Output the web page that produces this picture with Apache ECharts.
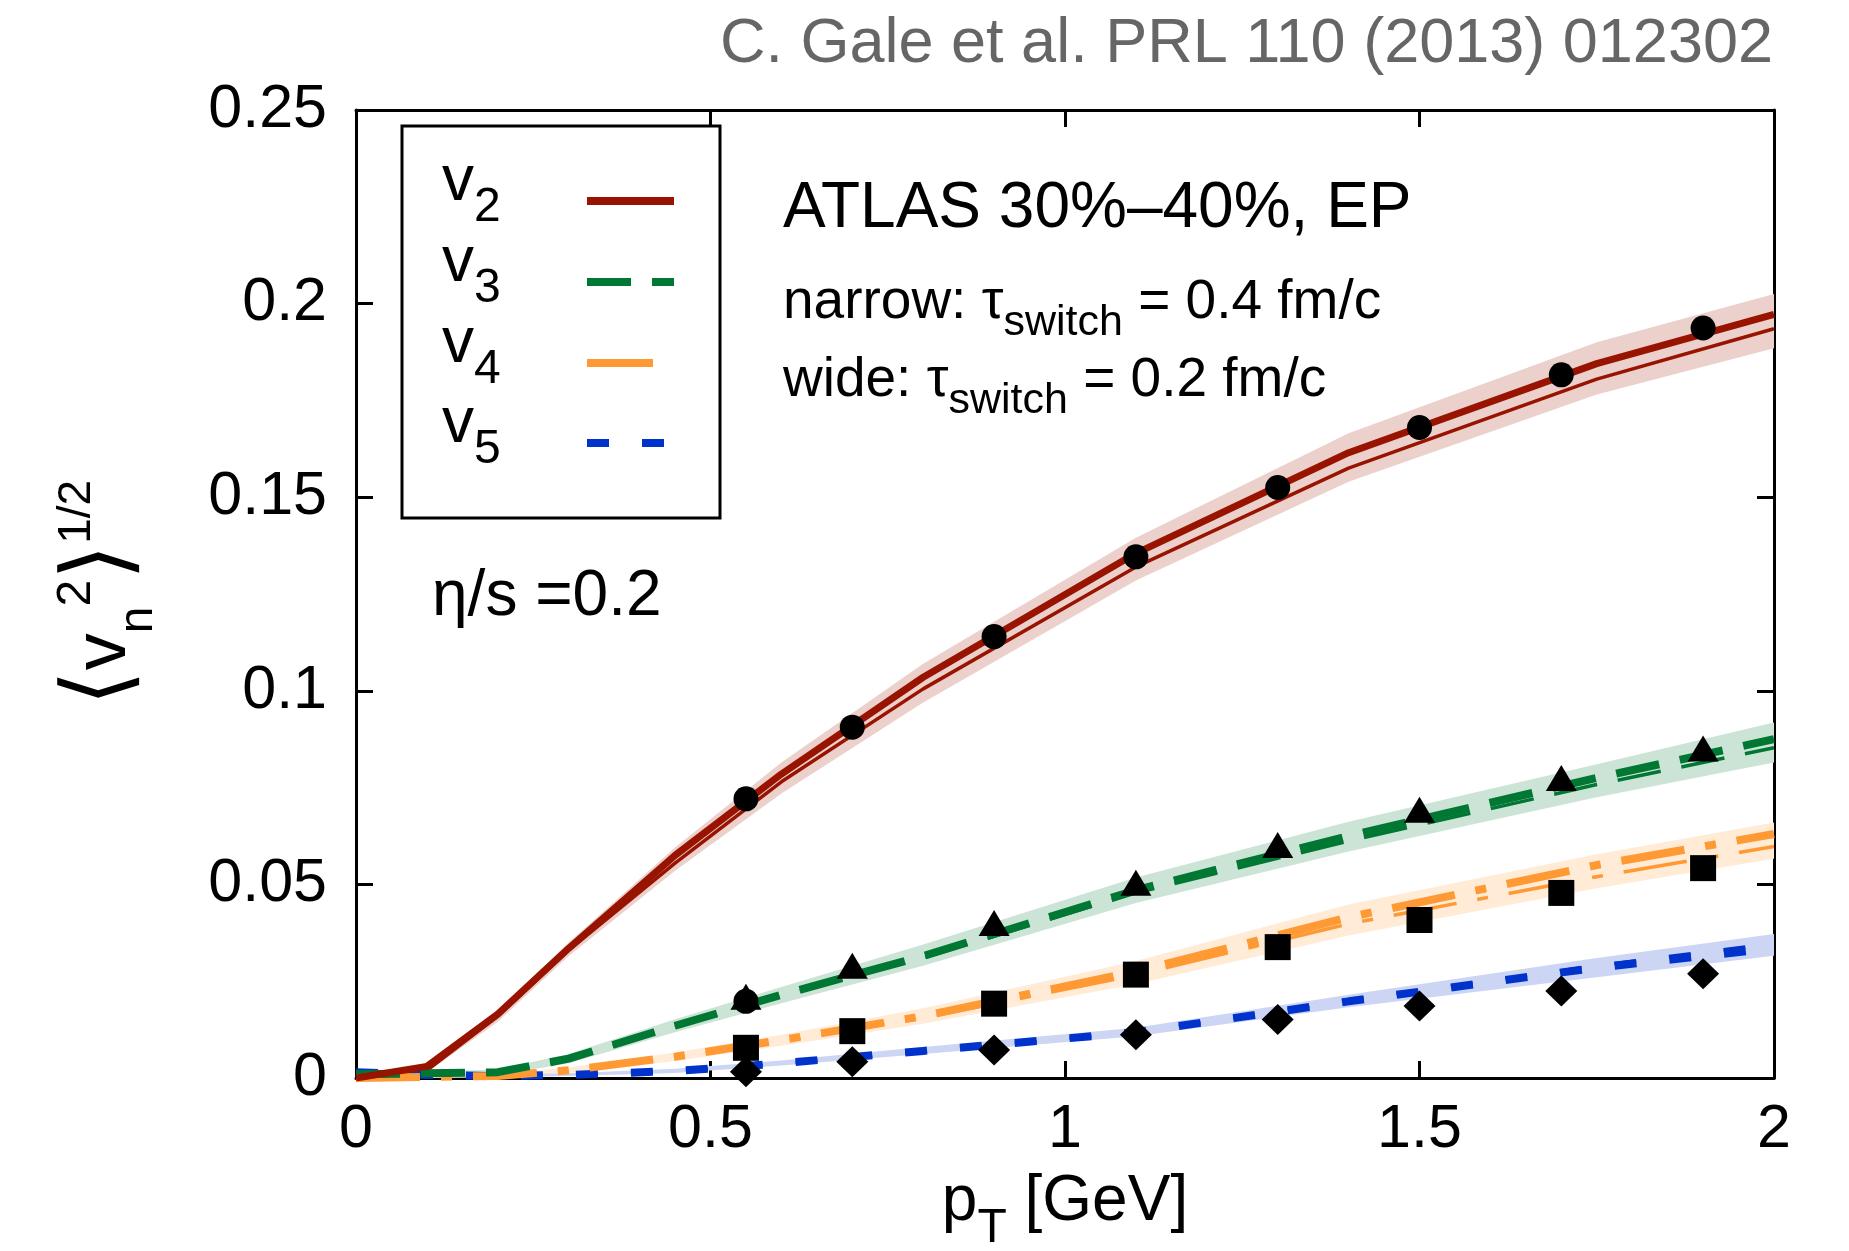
<!DOCTYPE html>
<html>
<head>
<meta charset="utf-8">
<script src="https://cdn.jsdelivr.net/npm/echarts@6/dist/echarts.min.js"></script>
<style>
  html, body { margin: 0; padding: 0; background: #fff; }
  #chart { width: 1849px; height: 1251px; }
</style>
</head>
<body>
<div id="chart"></div>
<script>
// model curves, sampled in pT
const pT = [0, 0.1, 0.2, 0.3, 0.45, 0.6, 0.8, 1.1, 1.4, 1.75, 2.0];

const v2Narrow = [0, 0.003, 0.0165, 0.0335, 0.0575, 0.0785, 0.1035, 0.1355, 0.1615, 0.1845, 0.1972];
const v2Wide   = [0, 0.002, 0.016, 0.033, 0.0555, 0.0765, 0.1005, 0.132, 0.1575, 0.1805, 0.1935];
const v2Hi     = [0, 0.0035, 0.0175, 0.035, 0.0595, 0.0815, 0.107, 0.1395, 0.1665, 0.190, 0.2025];
const v2Lo     = [0, 0.0015, 0.0145, 0.0315, 0.0535, 0.0735, 0.097, 0.1285, 0.154, 0.1765, 0.1885];

const v3Narrow = [0.001, 0.0012, 0.0015, 0.005, 0.0135, 0.0215, 0.0315, 0.0485, 0.0625, 0.0775, 0.0875];
const v3Wide   = [0.0008, 0.001, 0.0013, 0.0048, 0.0132, 0.0212, 0.031, 0.0478, 0.0612, 0.0758, 0.0853];
const v3Hi     = [0.0013, 0.0016, 0.0022, 0.0062, 0.0152, 0.0235, 0.0345, 0.0518, 0.0662, 0.081, 0.0918];
const v3Lo     = [0.0005, 0.0006, 0.0008, 0.0038, 0.0118, 0.0193, 0.029, 0.0452, 0.0585, 0.0725, 0.0815];

const v4Narrow = [0, 0.0003, 0.0005, 0.002, 0.0055, 0.0098, 0.016, 0.0275, 0.0415, 0.055, 0.063];
const v4Wide   = [0, 0.0003, 0.0005, 0.0019, 0.0053, 0.0095, 0.0155, 0.0266, 0.0398, 0.052, 0.0598];
const v4Hi     = [0.0004, 0.0007, 0.001, 0.0027, 0.0066, 0.0112, 0.018, 0.0302, 0.0448, 0.0578, 0.066];
const v4Lo     = [0, 0, 0.0001, 0.0013, 0.0044, 0.0083, 0.014, 0.0243, 0.0368, 0.049, 0.0566];

const v5Narrow = [0.0015, 0.0008, 0.0005, 0.0008, 0.0018, 0.0038, 0.007, 0.0118, 0.0198, 0.0285, 0.0335];
const v5Wide   = [0.0012, 0.0007, 0.0005, 0.0008, 0.0018, 0.0037, 0.0068, 0.0118, 0.02, 0.029, 0.0348];
const v5Hi     = [0.0018, 0.0012, 0.0009, 0.0012, 0.0024, 0.0045, 0.008, 0.013, 0.0215, 0.031, 0.0372];
const v5Lo     = [0.0011, 0.0005, 0.0002, 0.0005, 0.0013, 0.0032, 0.0062, 0.0108, 0.0183, 0.026, 0.0316];

// ATLAS points
const dataPT  = [0.55, 0.7, 0.9, 1.1, 1.3, 1.5, 1.7, 1.9];
const atlasV2 = [0.0721, 0.0906, 0.114, 0.1346, 0.1525, 0.168, 0.1816, 0.1937];
const atlasV3 = [0.021, 0.029, 0.040, 0.0504, 0.0602, 0.0693, 0.0775, 0.0851];
const atlasV4 = [0.0078, 0.0121, 0.0192, 0.0267, 0.0338, 0.0408, 0.0478, 0.0542];
const atlasV5 = [0.0016, 0.0042, 0.0072, 0.0112, 0.0151, 0.0186, 0.0225, 0.0269];
const strayCircle = [[0.55, 0.0198]];

const xTicks = [0, 0.5, 1, 1.5, 2];
const yTicks = [0, 0.05, 0.1, 0.15, 0.2, 0.25];

const FONT = '"Liberation Sans", Arial, Helvetica, sans-serif';
const RED = "#991400";
const GREEN = "#007733";
const ORANGE = "#ff9933";
const BLUE = "#0033cc";

const chart = echarts.init(document.getElementById("chart"));

const measureCtx = document.createElement("canvas").getContext("2d");
function textWidth(text, size) {
  measureCtx.font = `${size}px ${FONT}`;
  return measureCtx.measureText(text).width;
}

// text pieces placed on a common baseline; parts = [text, size, dy]
function richText(x, y, parts, opts = {}) {
  const fill = opts.fill || "#000";
  let cx = 0;
  const children = [];
  for (const [text, size, dy = 0] of parts) {
    children.push({
      type: "text",
      z: 30,
      x: cx,
      y: dy - 0.3465 * size,
      style: { text, fontSize: size, fontFamily: FONT, fill, align: "left", verticalAlign: "middle" },
    });
    cx += textWidth(text, size);
  }
  if (opts.align === "right") children.forEach((c) => (c.x -= cx));
  if (opts.align === "center") children.forEach((c) => (c.x -= cx / 2));
  return { type: "group", x, y, rotation: opts.rotation || 0, z: 30, children, silent: true };
}

function band(lo, hi, color) {
  return {
    type: "custom",
    z: 1,
    silent: true,
    clip: true,
    data: pT.map((x, i) => [x, lo[i], hi[i]]),
    encode: { x: 0, y: [1, 2] },
    renderItem(params, api) {
      if (params.dataIndex !== 0) return null;
      const pts = [];
      for (let i = 0; i < pT.length; i++) pts.push(api.coord([pT[i], hi[i]]));
      for (let i = pT.length - 1; i >= 0; i--) pts.push(api.coord([pT[i], lo[i]]));
      return { type: "polygon", shape: { points: pts }, style: { fill: color } };
    },
  };
}

function curve(vals, color, width, dash, z) {
  return {
    type: "line",
    z,
    silent: true,
    symbol: "none",
    showSymbol: false,
    data: pT.map((x, i) => [x, vals[i]]),
    lineStyle: { color, width, type: dash, cap: "butt" },
  };
}

function points(vals, symbol, size) {
  return {
    type: "scatter",
    z: 6,
    silent: true,
    symbol,
    symbolSize: size,
    data: dataPT.map((x, i) => [x, vals[i]]),
    itemStyle: { color: "#000", opacity: 1 },
  };
}

const dash3 = [44, 21];
const dash4 = [64, 21, 11, 21];
const dash5 = [22, 33];

const frameLine = { show: true, onZero: false, lineStyle: { color: "#000", width: 3 } };
const frameTick = { show: true, inside: true, length: 17, lineStyle: { color: "#000", width: 3 } };
const tickLabel = { color: "#000", fontSize: 61, fontFamily: FONT };

const legendRows = [
  { sub: "2", color: RED, dash: "solid", len: 87 },
  { sub: "3", color: GREEN, dash: dash3, len: 87 },
  { sub: "4", color: ORANGE, dash: "solid", len: 66 },
  { sub: "5", color: BLUE, dash: dash5, len: 87 },
];
const legendBase = [205, 286, 367, 447];

const graphics = [
  {
    type: "rect",
    z: 15,
    silent: true,
    shape: { x: 402, y: 126, width: 318, height: 392 },
    style: { fill: "#fff", stroke: "#000", lineWidth: 3 },
  },
  richText(1773, 66, [["C. Gale et al. PRL 110 (2013) 012302", 63]], { align: "right", fill: "#666666" }),
  richText(783, 232, [["ATLAS 30%\u201340%, EP", 64]]),
  richText(783, 322, [["narrow: ", 55], ["\u03c4", 55], ["switch", 43, 16], [" = 0.4 fm/c", 55]]),
  richText(783, 400, [["wide: ", 55], ["\u03c4", 55], ["switch", 43, 16], [" = 0.2 fm/c", 55]]),
  richText(432, 620, [["\u03b7/s =0.2", 64]]),
  richText(1065, 1225, [["p", 64], ["T", 48, 20], [" [GeV]", 64]], { align: "center" }),
  richText(
    130, 593,
    [["\u27e8", 92, 4], ["v", 74], ["n", 48, 25], ["2", 48, -37], ["\u27e9", 92, 4], ["1/2", 46, -37]],
    { align: "center", rotation: Math.PI / 2 }
  ),
];

legendRows.forEach((row, i) => {
  const yb = legendBase[i];
  graphics.push(richText(442, yb, [["v", 64], [row.sub, 48, 19]]));
  graphics.push({
    type: "line",
    z: 30,
    silent: true,
    shape: { x1: 587, y1: yb - 4, x2: 587 + row.len, y2: yb - 4 },
    style: { stroke: row.color, lineWidth: 8, lineDash: row.dash === "solid" ? null : row.dash },
  });
});

chart.setOption({
  animation: false,
  backgroundColor: "#fff",
  grid: { left: 356, top: 110, width: 1418, height: 968, outerBoundsMode: "none" },
  xAxis: [
    {
      type: "value",
      min: xTicks[0],
      max: xTicks[xTicks.length - 1],
      interval: xTicks[1] - xTicks[0],
      axisLine: frameLine,
      axisTick: frameTick,
      axisLabel: { ...tickLabel, margin: 22 },
      splitLine: { show: false },
    },
    {
      type: "value",
      position: "top",
      min: xTicks[0],
      max: xTicks[xTicks.length - 1],
      interval: xTicks[1] - xTicks[0],
      axisLine: frameLine,
      axisTick: frameTick,
      axisLabel: { show: false },
      splitLine: { show: false },
    },
  ],
  yAxis: [
    {
      type: "value",
      min: yTicks[0],
      max: yTicks[yTicks.length - 1],
      interval: yTicks[1] - yTicks[0],
      axisLine: frameLine,
      axisTick: frameTick,
      axisLabel: { ...tickLabel, margin: 29 },
      splitLine: { show: false },
    },
    {
      type: "value",
      position: "right",
      min: yTicks[0],
      max: yTicks[yTicks.length - 1],
      interval: yTicks[1] - yTicks[0],
      axisLine: frameLine,
      axisTick: frameTick,
      axisLabel: { show: false },
      splitLine: { show: false },
    },
  ],
  series: [
    band(v2Lo, v2Hi, "#ecd0cc"),
    band(v3Lo, v3Hi, "#cce4d6"),
    band(v4Lo, v4Hi, "#ffebd6"),
    band(v5Lo, v5Hi, "#ccd6f4"),
    curve(v5Wide, BLUE, 3.5, dash5, 2),
    curve(v5Narrow, BLUE, 8, dash5, 3),
    curve(v4Wide, ORANGE, 3.5, dash4, 2),
    curve(v4Narrow, ORANGE, 8, dash4, 3),
    curve(v3Wide, GREEN, 3.5, dash3, 2),
    curve(v3Narrow, GREEN, 8, dash3, 3),
    curve(v2Wide, RED, 3.5, "solid", 2),
    curve(v2Narrow, RED, 7, "solid", 3),
    {
      type: "scatter",
      z: 6,
      silent: true,
      symbol: "circle",
      symbolSize: 25,
      data: strayCircle,
      itemStyle: { color: "#000", opacity: 1 },
    },
    points(atlasV2, "circle", 25),
    points(atlasV3, "triangle", [31, 26]),
    points(atlasV4, "rect", 26),
    points(atlasV5, "diamond", [32, 31]),
  ],
  graphic: graphics,
});

window.addEventListener("resize", () => chart.resize());
</script>
</body>
</html>
